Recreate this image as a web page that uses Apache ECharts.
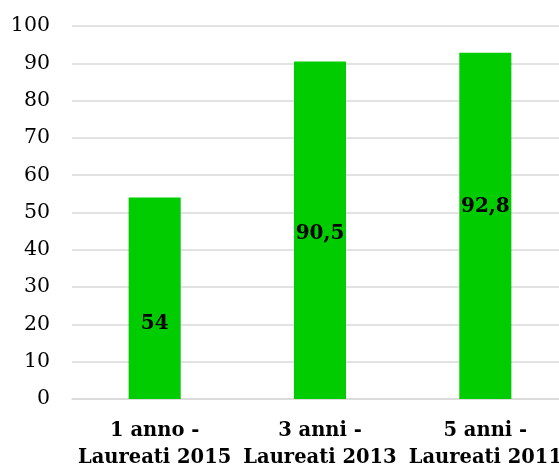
<!DOCTYPE html>
<html>
<head>
<meta charset="utf-8">
<script src="https://cdn.jsdelivr.net/npm/echarts@6/dist/echarts.min.js"></script>
<style>
html,body{margin:0;padding:0;background:#fff;}
#chart{width:559px;height:466px;}
</style>
</head>
<body>
<div id="chart"></div>
<script>
const categories = ["1 anno -\nLaureati 2015", "3 anni -\nLaureati 2013", "5 anni -\nLaureati 2011"];
const values = [54, 90.5, 92.8];
const valueLabels = ["54", "90,5", "92,8"];
const yTicks = [0, 10, 20, 30, 40, 50, 60, 70, 80, 90, 100];

const FONT = "DejaVu Serif";
const labelOffsets = [[0, 26], [0, 4], [0, -19]];

const chart = echarts.init(document.getElementById('chart'), null, {renderer: 'canvas'});
chart.setOption({
  animation: false,
  grid: {left: 72, right: -9, top: 26, bottom: 67, containLabel: false, outerBoundsMode: 'none'},
  xAxis: {
    type: 'category',
    data: categories,
    axisLine: {lineStyle: {color: '#d9d9d9', width: 1.5}},
    axisTick: {show: false},
    axisLabel: {
      fontFamily: FONT, fontWeight: 'bold', fontSize: 19.5, color: '#000',
      lineHeight: 27, margin: 18, interval: 0
    }
  },
  yAxis: {
    type: 'value',
    min: yTicks[0], max: yTicks[yTicks.length - 1], interval: 10,
    axisLine: {show: false},
    axisTick: {show: false},
    splitLine: {lineStyle: {color: '#d9d9d9', width: 1.5}},
    axisLabel: {fontFamily: FONT, fontSize: 20.5, color: '#000', margin: 22}
  },
  series: [{
    type: 'bar',
    barWidth: '31.5%',
    itemStyle: {color: '#00cc00'},
    data: values.map((v, i) => ({
      value: v,
      label: {
        show: true, position: 'inside', offset: labelOffsets[i],
        formatter: valueLabels[i],
        fontFamily: FONT, fontWeight: 'bold', fontSize: 20, color: '#000'
      }
    }))
  }]
});
</script>
</body>
</html>
